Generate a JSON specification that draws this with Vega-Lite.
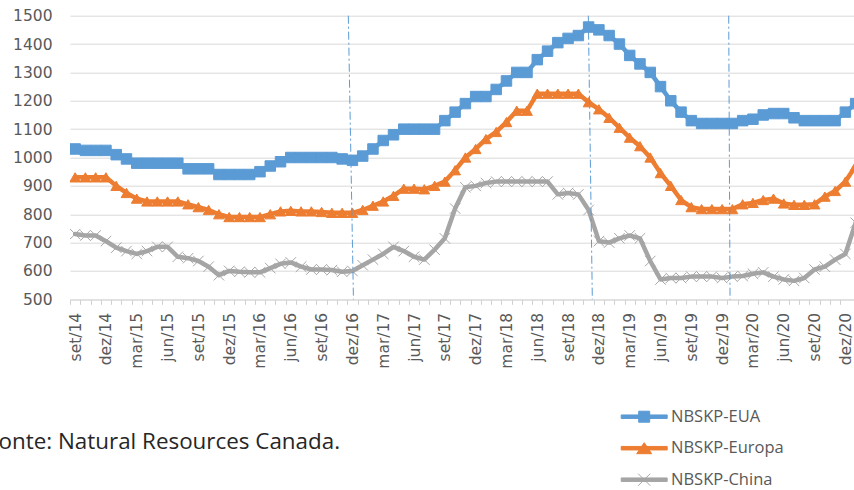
{
  "$schema": "https://vega.github.io/schema/vega-lite/v6.json",
  "autosize": "none",
  "width": 784,
  "height": 283.6,
  "padding": {"left": 70, "top": 15.7, "right": 0, "bottom": 190.7},
  "background": "white",
  "config": {
    "view": {"stroke": null}
  },
  "data": {
    "values": [
      {"i": 0, "mes": "set/14", "NBSKP-EUA": 1030, "NBSKP-Europa": 930, "NBSKP-China": 730},
      {"i": 1, "mes": "out/14", "NBSKP-EUA": 1025, "NBSKP-Europa": 930, "NBSKP-China": 725},
      {"i": 2, "mes": "nov/14", "NBSKP-EUA": 1025, "NBSKP-Europa": 930, "NBSKP-China": 725},
      {"i": 3, "mes": "dez/14", "NBSKP-EUA": 1025, "NBSKP-Europa": 930, "NBSKP-China": 705},
      {"i": 4, "mes": "jan/15", "NBSKP-EUA": 1010, "NBSKP-Europa": 900, "NBSKP-China": 682},
      {"i": 5, "mes": "fev/15", "NBSKP-EUA": 995, "NBSKP-Europa": 875, "NBSKP-China": 670},
      {"i": 6, "mes": "mar/15", "NBSKP-EUA": 980, "NBSKP-Europa": 855, "NBSKP-China": 660},
      {"i": 7, "mes": "abr/15", "NBSKP-EUA": 980, "NBSKP-Europa": 845, "NBSKP-China": 670},
      {"i": 8, "mes": "mai/15", "NBSKP-EUA": 980, "NBSKP-Europa": 845, "NBSKP-China": 685},
      {"i": 9, "mes": "jun/15", "NBSKP-EUA": 980, "NBSKP-Europa": 845, "NBSKP-China": 685},
      {"i": 10, "mes": "jul/15", "NBSKP-EUA": 980, "NBSKP-Europa": 845, "NBSKP-China": 650},
      {"i": 11, "mes": "ago/15", "NBSKP-EUA": 960, "NBSKP-Europa": 835, "NBSKP-China": 645},
      {"i": 12, "mes": "set/15", "NBSKP-EUA": 960, "NBSKP-Europa": 825, "NBSKP-China": 635},
      {"i": 13, "mes": "out/15", "NBSKP-EUA": 960, "NBSKP-Europa": 815, "NBSKP-China": 615},
      {"i": 14, "mes": "nov/15", "NBSKP-EUA": 940, "NBSKP-Europa": 800, "NBSKP-China": 585},
      {"i": 15, "mes": "dez/15", "NBSKP-EUA": 940, "NBSKP-Europa": 790, "NBSKP-China": 600},
      {"i": 16, "mes": "jan/16", "NBSKP-EUA": 940, "NBSKP-Europa": 790, "NBSKP-China": 597},
      {"i": 17, "mes": "fev/16", "NBSKP-EUA": 940, "NBSKP-Europa": 790, "NBSKP-China": 595},
      {"i": 18, "mes": "mar/16", "NBSKP-EUA": 950, "NBSKP-Europa": 790, "NBSKP-China": 595},
      {"i": 19, "mes": "abr/16", "NBSKP-EUA": 970, "NBSKP-Europa": 800, "NBSKP-China": 610},
      {"i": 20, "mes": "mai/16", "NBSKP-EUA": 985, "NBSKP-Europa": 810, "NBSKP-China": 625},
      {"i": 21, "mes": "jun/16", "NBSKP-EUA": 1000, "NBSKP-Europa": 812, "NBSKP-China": 630},
      {"i": 22, "mes": "jul/16", "NBSKP-EUA": 1000, "NBSKP-Europa": 810, "NBSKP-China": 615},
      {"i": 23, "mes": "ago/16", "NBSKP-EUA": 1000, "NBSKP-Europa": 810, "NBSKP-China": 605},
      {"i": 24, "mes": "set/16", "NBSKP-EUA": 1000, "NBSKP-Europa": 808, "NBSKP-China": 605},
      {"i": 25, "mes": "out/16", "NBSKP-EUA": 1000, "NBSKP-Europa": 805, "NBSKP-China": 603},
      {"i": 26, "mes": "nov/16", "NBSKP-EUA": 995, "NBSKP-Europa": 805, "NBSKP-China": 597},
      {"i": 27, "mes": "dez/16", "NBSKP-EUA": 990, "NBSKP-Europa": 805, "NBSKP-China": 600},
      {"i": 28, "mes": "jan/17", "NBSKP-EUA": 1005, "NBSKP-Europa": 815, "NBSKP-China": 620},
      {"i": 29, "mes": "fev/17", "NBSKP-EUA": 1030, "NBSKP-Europa": 830, "NBSKP-China": 640},
      {"i": 30, "mes": "mar/17", "NBSKP-EUA": 1060, "NBSKP-Europa": 845, "NBSKP-China": 660},
      {"i": 31, "mes": "abr/17", "NBSKP-EUA": 1080, "NBSKP-Europa": 865, "NBSKP-China": 685},
      {"i": 32, "mes": "mai/17", "NBSKP-EUA": 1100, "NBSKP-Europa": 890, "NBSKP-China": 670},
      {"i": 33, "mes": "jun/17", "NBSKP-EUA": 1100, "NBSKP-Europa": 890, "NBSKP-China": 650},
      {"i": 34, "mes": "jul/17", "NBSKP-EUA": 1100, "NBSKP-Europa": 888, "NBSKP-China": 640},
      {"i": 35, "mes": "ago/17", "NBSKP-EUA": 1100, "NBSKP-Europa": 900, "NBSKP-China": 675},
      {"i": 36, "mes": "set/17", "NBSKP-EUA": 1130, "NBSKP-Europa": 915, "NBSKP-China": 715},
      {"i": 37, "mes": "out/17", "NBSKP-EUA": 1160, "NBSKP-Europa": 955, "NBSKP-China": 820},
      {"i": 38, "mes": "nov/17", "NBSKP-EUA": 1190, "NBSKP-Europa": 1000, "NBSKP-China": 895},
      {"i": 39, "mes": "dez/17", "NBSKP-EUA": 1215, "NBSKP-Europa": 1030, "NBSKP-China": 900},
      {"i": 40, "mes": "jan/18", "NBSKP-EUA": 1215, "NBSKP-Europa": 1065, "NBSKP-China": 910},
      {"i": 41, "mes": "fev/18", "NBSKP-EUA": 1240, "NBSKP-Europa": 1090, "NBSKP-China": 915},
      {"i": 42, "mes": "mar/18", "NBSKP-EUA": 1270, "NBSKP-Europa": 1125, "NBSKP-China": 915},
      {"i": 43, "mes": "abr/18", "NBSKP-EUA": 1300, "NBSKP-Europa": 1165, "NBSKP-China": 915},
      {"i": 44, "mes": "mai/18", "NBSKP-EUA": 1300, "NBSKP-Europa": 1165, "NBSKP-China": 915},
      {"i": 45, "mes": "jun/18", "NBSKP-EUA": 1345, "NBSKP-Europa": 1225, "NBSKP-China": 915},
      {"i": 46, "mes": "jul/18", "NBSKP-EUA": 1375, "NBSKP-Europa": 1225, "NBSKP-China": 915},
      {"i": 47, "mes": "ago/18", "NBSKP-EUA": 1405, "NBSKP-Europa": 1225, "NBSKP-China": 870},
      {"i": 48, "mes": "set/18", "NBSKP-EUA": 1420, "NBSKP-Europa": 1225, "NBSKP-China": 875},
      {"i": 49, "mes": "out/18", "NBSKP-EUA": 1430, "NBSKP-Europa": 1225, "NBSKP-China": 870},
      {"i": 50, "mes": "nov/18", "NBSKP-EUA": 1460, "NBSKP-Europa": 1195, "NBSKP-China": 815},
      {"i": 51, "mes": "dez/18", "NBSKP-EUA": 1450, "NBSKP-Europa": 1170, "NBSKP-China": 705},
      {"i": 52, "mes": "jan/19", "NBSKP-EUA": 1430, "NBSKP-Europa": 1140, "NBSKP-China": 700},
      {"i": 53, "mes": "fev/19", "NBSKP-EUA": 1400, "NBSKP-Europa": 1105, "NBSKP-China": 715},
      {"i": 54, "mes": "mar/19", "NBSKP-EUA": 1360, "NBSKP-Europa": 1070, "NBSKP-China": 725},
      {"i": 55, "mes": "abr/19", "NBSKP-EUA": 1330, "NBSKP-Europa": 1040, "NBSKP-China": 715},
      {"i": 56, "mes": "mai/19", "NBSKP-EUA": 1300, "NBSKP-Europa": 1000, "NBSKP-China": 635},
      {"i": 57, "mes": "jun/19", "NBSKP-EUA": 1250, "NBSKP-Europa": 945, "NBSKP-China": 570},
      {"i": 58, "mes": "jul/19", "NBSKP-EUA": 1200, "NBSKP-Europa": 900, "NBSKP-China": 575},
      {"i": 59, "mes": "ago/19", "NBSKP-EUA": 1160, "NBSKP-Europa": 850, "NBSKP-China": 575},
      {"i": 60, "mes": "set/19", "NBSKP-EUA": 1130, "NBSKP-Europa": 825, "NBSKP-China": 580},
      {"i": 61, "mes": "out/19", "NBSKP-EUA": 1120, "NBSKP-Europa": 818, "NBSKP-China": 580},
      {"i": 62, "mes": "nov/19", "NBSKP-EUA": 1120, "NBSKP-Europa": 818, "NBSKP-China": 580},
      {"i": 63, "mes": "dez/19", "NBSKP-EUA": 1120, "NBSKP-Europa": 818, "NBSKP-China": 575},
      {"i": 64, "mes": "jan/20", "NBSKP-EUA": 1120, "NBSKP-Europa": 818, "NBSKP-China": 580},
      {"i": 65, "mes": "fev/20", "NBSKP-EUA": 1130, "NBSKP-Europa": 835, "NBSKP-China": 582},
      {"i": 66, "mes": "mar/20", "NBSKP-EUA": 1135, "NBSKP-Europa": 840, "NBSKP-China": 590},
      {"i": 67, "mes": "abr/20", "NBSKP-EUA": 1150, "NBSKP-Europa": 850, "NBSKP-China": 595},
      {"i": 68, "mes": "mai/20", "NBSKP-EUA": 1155, "NBSKP-Europa": 855, "NBSKP-China": 580},
      {"i": 69, "mes": "jun/20", "NBSKP-EUA": 1155, "NBSKP-Europa": 838, "NBSKP-China": 570},
      {"i": 70, "mes": "jul/20", "NBSKP-EUA": 1140, "NBSKP-Europa": 833, "NBSKP-China": 565},
      {"i": 71, "mes": "ago/20", "NBSKP-EUA": 1130, "NBSKP-Europa": 833, "NBSKP-China": 575},
      {"i": 72, "mes": "set/20", "NBSKP-EUA": 1130, "NBSKP-Europa": 835, "NBSKP-China": 605},
      {"i": 73, "mes": "out/20", "NBSKP-EUA": 1130, "NBSKP-Europa": 862, "NBSKP-China": 615},
      {"i": 74, "mes": "nov/20", "NBSKP-EUA": 1130, "NBSKP-Europa": 882, "NBSKP-China": 640},
      {"i": 75, "mes": "dez/20", "NBSKP-EUA": 1160, "NBSKP-Europa": 915, "NBSKP-China": 660},
      {"i": 76, "mes": "jan/21", "NBSKP-EUA": 1190, "NBSKP-Europa": 970, "NBSKP-China": 770}
    ]
  },
  "encoding": {
    "x": {
      "field": "i",
      "type": "quantitative",
      "scale": {"domain": [-0.5, 75.84], "nice": false, "zero": false},
      "axis": {
        "values": [0,1,2,3,4,5,6,7,8,9,10,11,12,13,14,15,16,17,18,19,20,21,22,23,24,25,26,27,28,29,30,31,32,33,34,35,36,37,38,39,40,41,42,43,44,45,46,47,48,49,50,51,52,53,54,55,56,57,58,59,60,61,62,63,64,65,66,67,68,69,70,71,72,73,74,75,76],
        "labelExpr": "datum.value % 3 == 0 ? ['jan','fev','mar','abr','mai','jun','jul','ago','set','out','nov','dez'][(datum.value + 8) % 12] + '/' + (14 + floor((datum.value + 8) / 12)) : ''",
        "tickOffset": -5.135,
        "labelOffset": 5.135,
        "labelAngle": 270,
        "labelAlign": "right",
        "labelBaseline": "middle",
        "labelPadding": 8,
        "labelOverlap": false,
        "labelFlush": false,
        "labelBound": false,
        "labelFont": "DejaVu Sans",
        "labelFontSize": 15.5,
        "labelColor": "#595959",
        "tickSize": 5,
        "tickColor": "#D0D0D0",
        "domainColor": "#D9D9D9",
        "grid": false,
        "title": "Fonte: Natural Resources Canada.",
        "titleX": -83.5,
        "titleY": 149,
        "titleAlign": "left",
        "titleBaseline": "alphabetic",
        "titleAngle": 0,
        "titleFont": "Open Sans",
        "titleFontSize": 22.4,
        "titleFontWeight": "normal",
        "titleColor": "#262626"
      }
    },
    "y": {
      "field": "valor",
      "type": "quantitative",
      "scale": {"domain": [500, 1500], "nice": false, "zero": false},
      "axis": {
        "values": [500,600,700,800,900,1000,1100,1200,1300,1400,1500],
        "format": "d",
        "domain": false,
        "ticks": false,
        "labelPadding": 18,
        "labelFont": "DejaVu Sans",
        "labelFontSize": 15.5,
        "labelColor": "#595959",
        "gridColor": "#D9D9D9",
        "gridWidth": 1,
        "title": null
      }
    }
  },
  "layer": [
    {
      "transform": [{"fold": ["NBSKP-EUA", "NBSKP-Europa", "NBSKP-China"], "as": ["serie", "valor"]}],
      "mark": {"type": "line", "strokeWidth": 4.5, "strokeJoin": "round", "strokeCap": "round", "clip": true},
      "encoding": {
        "color": {
          "field": "serie",
          "type": "nominal",
          "scale": {"domain": ["NBSKP-EUA", "NBSKP-Europa", "NBSKP-China"], "range": ["#5B9BD5", "#ED7D31", "#A5A5A5"]},
          "legend": {
            "orient": "none",
            "legendX": 563.7,
            "legendY": 390.5,
            "direction": "vertical",
            "title": null,
            "padding": 0,
            "symbolSize": 400,
            "labelFont": "Open Sans",
            "labelFontSize": 16.5,
            "labelColor": "#595959",
            "labelOffset": 16.3,
            "rowPadding": 12.5,
            "encode": {
              "symbols": {
                "update": {
                  "shape": {"signal": "datum.value === 'NBSKP-EUA' ? 'M-2.3,-0.175H2.3V0.175H-2.3Z M-0.55,-0.55H0.55V0.55H-0.55Z' : datum.value === 'NBSKP-Europa' ? 'M-2.3,-0.175H2.3V0.175H-2.3Z M0,-0.55L0.75,0.55H-0.75Z' : 'M-2.3,-0.175H2.3V0.175H-2.3Z M-0.6,-0.6L0.6,0.6M-0.6,0.6L0.6,-0.6'"},
                  "fill": {"signal": "datum.value === 'NBSKP-EUA' ? '#5B9BD5' : datum.value === 'NBSKP-Europa' ? '#ED7D31' : '#A5A5A5'"},
                  "stroke": {"signal": "datum.value === 'NBSKP-EUA' ? '#5B9BD5' : datum.value === 'NBSKP-Europa' ? '#ED7D31' : '#A5A5A5'"},
                  "strokeWidth": {"value": 1},
                  "opacity": {"value": 1}
                }
              }
            }
          }
        }
      }
    },
    {
      "transform": [
        {"fold": ["NBSKP-EUA"], "as": ["serie", "valor"]}
      ],
      "mark": {"type": "point", "shape": "square", "filled": true, "size": 110, "color": "#5B9BD5", "stroke": "#5B9BD5", "strokeWidth": 1, "opacity": 1, "clip": true}
    },
    {
      "transform": [
        {"fold": ["NBSKP-Europa"], "as": ["serie", "valor"]}
      ],
      "mark": {"type": "point", "shape": "triangle-up", "filled": true, "size": 115, "color": "#ED7D31", "stroke": "#ED7D31", "strokeWidth": 1, "opacity": 1, "clip": true}
    },
    {
      "transform": [
        {"fold": ["NBSKP-China"], "as": ["serie", "valor"]}
      ],
      "mark": {"type": "point", "shape": "M-1,-1L1,1M-1,1L1,-1", "filled": false, "size": 110, "stroke": "#A5A5A5", "strokeWidth": 1, "opacity": 1, "clip": true}
    },
    {
      "data": {
        "values": [
          {"i": 26.6, "i2": 27.1, "valor": 1500, "valor2": 500},
          {"i": 49.97, "i2": 50.36, "valor": 1500, "valor2": 500},
          {"i": 63.64, "i2": 63.77, "valor": 1500, "valor2": 500}
        ]
      },
      "mark": {"type": "rule", "color": "#5B9BD5", "strokeWidth": 1, "strokeDash": [8, 3, 2, 3]},
      "encoding": {
        "x2": {"field": "i2"},
        "y2": {"field": "valor2"}
      }
    }
  ]
}
